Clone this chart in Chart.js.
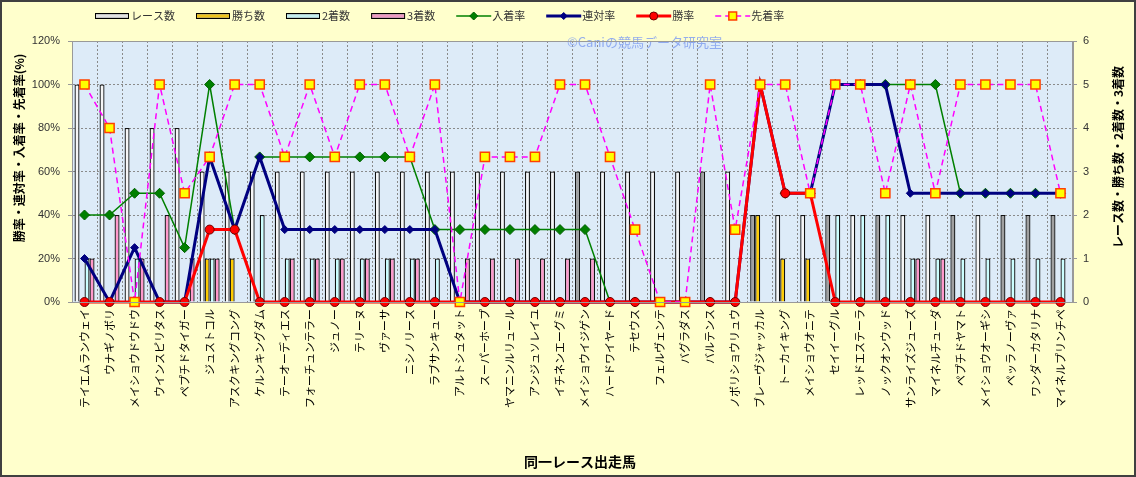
<!DOCTYPE html>
<html><head><meta charset="utf-8">
<script src="https://cdn.jsdelivr.net/npm/chart.js@4.4.0/dist/chart.umd.min.js"></script>
<style>html,body{margin:0;padding:0;background:#FFFFCC;}canvas{display:block;}</style>
</head><body>
<canvas id="c" width="1136" height="477" style="width:1136px;height:477px"></canvas>
<script>
const horses = ['テイエムランウェイ','ウナギノボリ','メイショウドウドウ','ウインスピリタス','ペプチドタイガー','ジュストコル','アスクキングコング','ケルンキングダム','テーオーディエス','フォーチュンテラー','ジュノー','テリーヌ','ヴァーサ','ニシノリース','ラブサンキュー','アルトシュタット','スーパーホープ','ヤマニンルリュール','アンジュソレイユ','イチネンエーグミ','メイショウイジゲン','ハードワイヤード','テセウス','フェルヴェンテ','バグラダス','バルテンス','ノボリショウリュウ','ブレーヴジャッカル','トーカイキング','メイショウオニテ','セイイーグル','レッドエステーラ','ノックオンウッド','サンライズジューズ','マイネルチューダ','ペプチドヤマト','メイショウオーギシ','ペッラノーヴァ','ワンダーカタリナ','マイネルプリンチペ'];
const raceCounts   = [5,5,4,4,4,3,3,3,3,3,3,3,3,3,3,3,3,3,3,3,3,3,3,3,3,3,3,2,2,2,2,2,2,2,2,2,2,2,2,2];
const winCounts    = [0,0,0,0,0,1,1,0,0,0,0,0,0,0,0,0,0,0,0,0,0,0,0,0,0,0,0,2,1,1,0,0,0,0,0,0,0,0,0,0];
const secondCounts = [1,0,1,0,0,1,0,2,1,1,1,1,1,1,1,0,0,0,0,0,0,0,0,0,0,0,0,0,0,0,2,2,2,1,1,1,1,1,1,1];
const thirdCounts  = [1,2,1,2,1,1,0,0,1,1,1,1,1,1,0,1,1,1,1,1,1,0,0,0,0,0,0,0,0,0,0,0,0,1,1,0,0,0,0,0];
const placeRate    = [40,40,50,50,25,100,33.3,66.7,66.7,66.7,66.7,66.7,66.7,66.7,33.3,33.3,33.3,33.3,33.3,33.3,33.3,0,0,0,0,0,0,100,50,50,100,100,100,100,100,50,50,50,50,50];
const quinellaRate = [20,0,25,0,0,66.7,33.3,66.7,33.3,33.3,33.3,33.3,33.3,33.3,33.3,0,0,0,0,0,0,0,0,0,0,0,0,100,50,50,100,100,100,50,50,50,50,50,50,50];
const winRate      = [0,0,0,0,0,33.3,33.3,0,0,0,0,0,0,0,0,0,0,0,0,0,0,0,0,0,0,0,0,100,50,50,0,0,0,0,0,0,0,0,0,0];
const beatRate     = [100,80,0,100,50,66.7,100,100,66.7,100,66.7,100,100,66.7,100,0,66.7,66.7,66.7,100,100,66.7,33.3,0,0,100,33.3,100,100,50,100,100,50,100,50,100,100,100,100,50];
const shadedRaceBars = ['メイショウイジゲン','バルテンス','ブレーヴジャッカル','セイイーグル','ノックオンウッド','ペプチドヤマト','ペッラノーヴァ','ワンダーカタリナ','マイネルプリンチペ'];
const pctTickLabels = ['0%','20%','40%','60%','80%','100%','120%'];
const countTickLabels = ['0','1','2','3','4','5','6'];

const JP = '"Noto Sans CJK JP", sans-serif';
const AR = '"Liberation Sans", Arial, sans-serif';

const raceColors = horses.map(h => shadedRaceBars.includes(h) ? '#A0A0A0' : '#F6F6F6');

const bgPlugin = {
  id: 'bg',
  beforeDraw(chart) {
    const {ctx, chartArea: a} = chart;
    ctx.save();
    ctx.fillStyle = '#FFFFCC';
    ctx.fillRect(0, 0, chart.width, chart.height);
    ctx.fillStyle = '#DDEBF8';
    ctx.fillRect(a.left, a.top, a.right - a.left, a.bottom - a.top);
    ctx.restore();
  },
  beforeDatasetsDraw(chart) {
    const {ctx, chartArea: a} = chart;
    ctx.save();
    ctx.font = '13px ' + JP;
    ctx.fillStyle = 'rgba(130,160,240,0.85)';
    ctx.textAlign = 'left';
    ctx.textBaseline = 'middle';
    ctx.fillText('©Caniの競馬データ研究室', 567, a.top + 1);
    ctx.restore();
  },
  afterDraw(chart) {
    const {ctx, chartArea: a} = chart;
    ctx.save();
    ctx.strokeStyle = '#999';
    ctx.lineWidth = 1;
    ctx.strokeRect(a.left + 0.5, a.top + 0.5, a.right - a.left - 1, a.bottom - a.top);
    ctx.strokeStyle = '#404040';
    ctx.lineWidth = 2;
    ctx.strokeRect(1, 1, chart.width - 2, chart.height - 2);
    ctx.fillStyle = '#000';
    ctx.textAlign = 'center';
    ctx.textBaseline = 'middle';
    ctx.font = 'bold 12px ' + JP;
    ctx.save();
    ctx.translate(19, 148);
    ctx.rotate(-Math.PI / 2);
    ctx.fillText('勝率・連対率・入着率・先着率(%)', 0, 0);
    ctx.restore();
    ctx.save();
    ctx.translate(1118, 157);
    ctx.rotate(-Math.PI / 2);
    ctx.fillText('レース数・勝ち数・2着数・3着数', 0, 0);
    ctx.restore();
    ctx.font = 'bold 14px ' + JP;
    ctx.fillText('同一レース出走馬', 580, 462);
    ctx.font = '11px ' + JP;
    ctx.textAlign = 'left';
    let x = 95; const y = 16;
    const dsSorted = chart.data.datasets.slice().sort((p, q) => p.legendIndex - q.legendIndex);
    dsSorted.forEach(ds => {
      if (ds.type === 'line') {
        ctx.strokeStyle = ds.borderColor;
        ctx.lineWidth = ds.borderWidth;
        ctx.setLineDash(ds.borderDash || []);
        ctx.beginPath(); ctx.moveTo(x, y); ctx.lineTo(x + 35, y); ctx.stroke();
        ctx.setLineDash([]);
        ctx.fillStyle = ds.pointBackgroundColor;
        ctx.strokeStyle = ds.pointBorderColor;
        ctx.lineWidth = ds.pointBorderWidth;
        Chart.helpers.drawPoint(ctx, {pointStyle: ds.pointStyle, radius: ds.legendRadius, borderWidth: ds.pointBorderWidth, rotation: 0}, x + 17.5, y);
      } else {
        const g = ctx.createLinearGradient(0, y - 3, 0, y + 3);
        g.addColorStop(0, '#999'); g.addColorStop(0.5, ds.legendColor); g.addColorStop(1, '#999');
        ctx.fillStyle = g;
        ctx.fillRect(x, y - 3, 33, 6);
        ctx.strokeStyle = '#000'; ctx.lineWidth = 1;
        ctx.strokeRect(x + 0.5, y - 2.5, 33, 5);
      }
      ctx.fillStyle = '#333';
      ctx.fillText(ds.label, x + 36, y);
      x += 36 + ctx.measureText(ds.label).width + 21;
    });
    ctx.restore();
  }
};

const barBase = {type: 'bar', yAxisID: 'y1', borderColor: '#111', borderWidth: 1.3, categoryPercentage: 0.8, barPercentage: 1.0, borderSkipped: 'start'};
const lineBase = {type: 'line', yAxisID: 'y', tension: 0, clip: false, fill: false};

new Chart(document.getElementById('c'), {
  data: {
    labels: horses,
    datasets: [
      Object.assign({}, barBase, {label: 'レース数', data: raceCounts, backgroundColor: raceColors, legendColor: '#F0F0F0', order: 10, legendIndex: 0}),
      Object.assign({}, barBase, {label: '勝ち数', data: winCounts, backgroundColor: '#FFCC00', legendColor: '#FFCC00', order: 11, legendIndex: 1}),
      Object.assign({}, barBase, {label: '2着数', data: secondCounts, backgroundColor: '#CCFFFF', legendColor: '#CCFFFF', order: 12, legendIndex: 2}),
      Object.assign({}, barBase, {label: '3着数', data: thirdCounts, backgroundColor: '#FF99CC', legendColor: '#FF99CC', order: 13, legendIndex: 3}),
      Object.assign({}, lineBase, {label: '入着率', data: placeRate, borderColor: '#008000', borderWidth: 1.5, pointStyle: 'rectRot', pointRadius: 5, pointBackgroundColor: '#008000', pointBorderColor: '#006000', pointBorderWidth: 1, legendRadius: 4, order: 3, legendIndex: 4}),
      Object.assign({}, lineBase, {label: '連対率', data: quinellaRate, borderColor: '#000080', borderWidth: 3, pointStyle: 'rectRot', pointRadius: 4, pointBackgroundColor: '#000080', pointBorderColor: '#000080', pointBorderWidth: 1, legendRadius: 3.5, order: 2, legendIndex: 5}),
      Object.assign({}, lineBase, {label: '勝率', data: winRate, borderColor: '#FF0000', borderWidth: 3, pointStyle: 'circle', pointRadius: 4.5, pointBackgroundColor: '#FF0000', pointBorderColor: '#700000', pointBorderWidth: 1, legendRadius: 4, order: 1, legendIndex: 6}),
      Object.assign({}, lineBase, {label: '先着率', data: beatRate, borderColor: '#FF00FF', borderWidth: 1.5, borderDash: [6, 4], pointStyle: 'rect', pointRadius: 6.5, pointBackgroundColor: '#FFFF00', pointBorderColor: '#FF4000', pointBorderWidth: 1.5, legendRadius: 5.5, order: 0, legendIndex: 7})
    ]
  },
  options: {
    responsive: false,
    animation: false,
    devicePixelRatio: 1,
    layout: {padding: {top: 41, left: 0, right: 0, bottom: 0}},
    plugins: {legend: {display: false}, tooltip: {enabled: false}},
    scales: {
      x: {
        type: 'category',
        offset: true,
        grid: {offset: true, color: '#8a8a8a', lineWidth: 1, drawTicks: false},
        border: {color: '#999', dash: [2, 2]},
        ticks: {autoSkip: false, minRotation: 90, maxRotation: 90, padding: 7, color: '#000', font: {family: JP, size: 11}},
        afterFit(s) { s.height = 175; }
      },
      y: {
        position: 'left', min: 0, max: 120,
        ticks: {stepSize: 20, color: '#333', padding: 8, font: {family: AR, size: 11}, callback: (v, i) => pctTickLabels[i]},
        grid: {color: '#8a8a8a', tickLength: 4, tickColor: '#999'},
        border: {color: '#999', dash: [2, 2]},
        afterFit(s) { s.width = 72; }
      },
      y1: {
        position: 'right', min: 0, max: 6,
        ticks: {stepSize: 1, color: '#333', padding: 6, font: {family: AR, size: 11}, callback: (v, i) => countTickLabels[i]},
        grid: {drawOnChartArea: false, tickLength: 4, tickColor: '#999'},
        border: {color: '#999'},
        afterFit(s) { s.width = 63; }
      }
    }
  },
  plugins: [bgPlugin]
});
</script>
</body></html>
